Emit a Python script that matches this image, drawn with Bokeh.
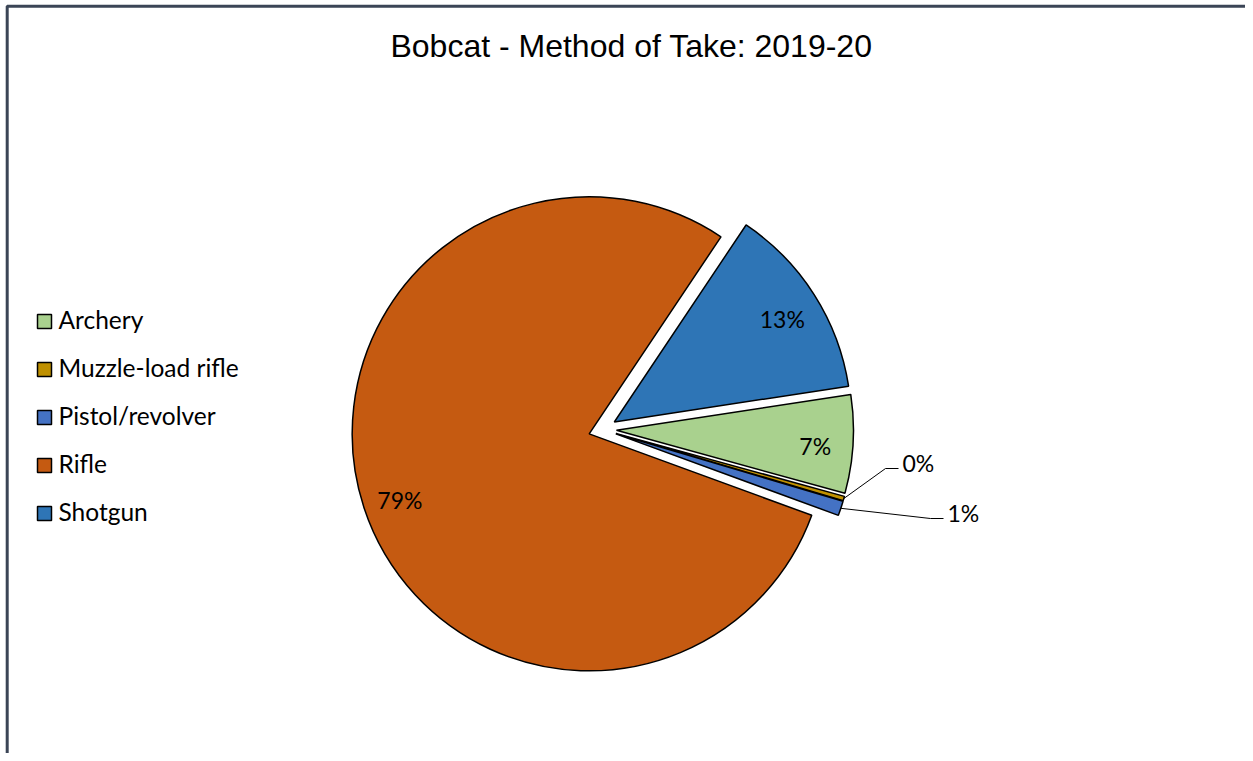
import numpy as np
from bokeh.plotting import figure
from bokeh.models import Range1d, ColumnDataSource
from bokeh.core.properties import value
from bokeh.embed import file_html
from bokeh.resources import INLINE

# ---- data ----
categories = ["Archery", "Muzzle-load rifle", "Pistol/revolver", "Rifle", "Shotgun"]
shares = [6.7, 0.3, 1.0, 78.8, 13.2]
pct_labels = ["7%", "0%", "1%", "79%", "13%"]
colors = ["#A9D18E", "#BF9000", "#4472C4", "#C55A11", "#2E75B6"]
title_text = "Bobcat - Method of Take: 2019-20"

# ---- layout (picture pixel coords, data y = 753 - picture y) ----
W, H = 1245, 753
def Y(py):
    return H - py

p = figure(width=W, height=H, x_range=Range1d(0, W), y_range=Range1d(0, H),
           output_backend="svg", toolbar_location=None, min_border=0,
           x_axis_location=None, y_axis_location=None)
p.grid.visible = False
p.outline_line_color = None
p.background_fill_color = "white"
p.border_fill_color = "white"

# frame
p.line([6.7, 6.7, W], [Y(H + 10), Y(5.7), Y(5.7)], line_color="#3B4556", line_width=3)

# title
p.text(x=[631], y=[Y(45)], text=[title_text], text_font=value("Liberation Sans"),
       text_font_size="32px", text_align="center", text_baseline="middle", text_color="black")

# pie geometry
cx, cy = 602.0, Y(429)
R = 237.0
explode = 14.0
first_angle = 8.7  # degrees, math convention, slices proceed clockwise

frac = np.array(shares) / np.sum(shares)
cum = np.concatenate([[0], np.cumsum(frac)[:-1]])
hi = first_angle - 360 * cum
lo = hi - 360 * frac
mid = np.radians((hi + lo) / 2)
xs = cx + explode * np.cos(mid)
ys = cy + explode * np.sin(mid)

src = ColumnDataSource(dict(x=xs, y=ys, start=np.radians(lo), end=np.radians(hi),
                            color=colors, cat=categories))
p.wedge(x="x", y="y", radius=R, start_angle="start", end_angle="end",
        direction="anticlock", fill_color="color", line_color="black",
        line_width=1.5, source=src)

label_font = value("Lato")
label_size = "23px"

# inside labels
in_x, in_y, in_t = [], [], []
out_idx = []
for i, f in enumerate(frac):
    if f >= 0.05:
        in_x.append(xs[i] + 0.84 * R * np.cos(mid[i]))
        in_y.append(ys[i] + 0.84 * R * np.sin(mid[i]) - 4)
        in_t.append(pct_labels[i])
    else:
        out_idx.append(i)
p.text(x=in_x, y=in_y, text=in_t, text_font=label_font, text_font_size=label_size,
       text_align="center", text_baseline="middle", text_color="black")

# outside labels with leader lines (offsets from pie centre)
out_offsets = [(300, 33), (345, 83)]
for (dx, dy), i in zip(out_offsets, out_idx):
    ax = xs[i] + R * np.cos(mid[i])
    ay = ys[i] + R * np.sin(mid[i])
    tx, ty = cx + dx, cy - dy
    p.line([ax, tx - 17, tx - 4], [ay, ty - 6, ty - 6], line_color="black", line_width=1)
    p.text(x=[tx], y=[ty], text=[pct_labels[i]], text_font=label_font,
           text_font_size=label_size, text_align="left", text_baseline="middle",
           text_color="black")

# legend
leg_y = [Y(321 + 48 * k) for k in range(len(categories))]
p.rect(x=[44] * len(categories), y=leg_y, width=14, height=14, fill_color=colors,
       line_color="black", line_width=1.5)
p.text(x=[58] * len(categories), y=[v + 2 for v in leg_y], text=categories,
       text_font=label_font, text_font_size="24.5px", text_align="left",
       text_baseline="middle", text_color="black")

open("out.html", "w").write(file_html(p, INLINE))
